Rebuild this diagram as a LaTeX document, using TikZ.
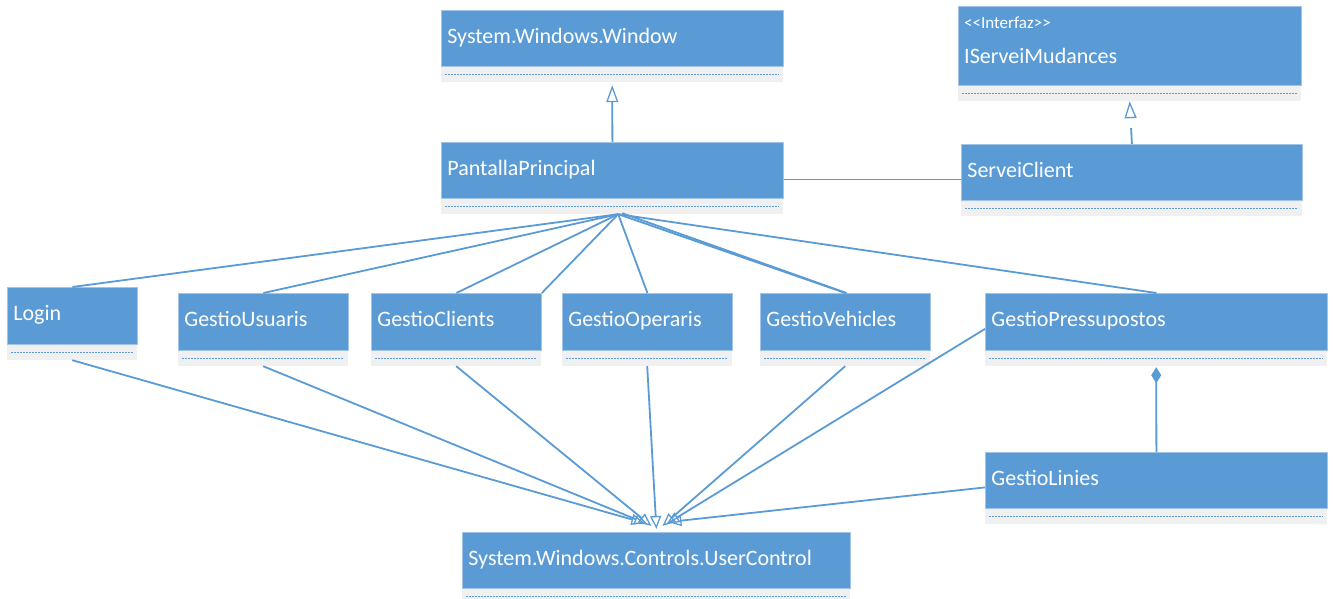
\documentclass[tikz,border=0pt]{standalone}
\usepackage{fontspec}
\newfontfamily\umlfont{Carlito}
\usetikzlibrary{arrows.meta,calc}
\definecolor{umlblue}{HTML}{5B9BD5}
\definecolor{umledge}{HTML}{A2C4E6}
\definecolor{umlband}{HTML}{F0F0F0}

\tikzset{
  cls/.style={rectangle, fill=umlblue, draw=umledge, line width=0.8pt,
    anchor=north west, inner xsep=6pt, inner ysep=0pt, text=white,
    text height=14pt, text depth=4pt,
    font=\umlfont\fontsize{22}{26}\selectfont, align=left},
  band/.style={rectangle, fill=umlband, anchor=north west, inner sep=0pt,
    minimum height=15pt,
    path picture={\draw[umlblue, line width=1.3pt, dash pattern=on 2pt off 1pt]
      ([xshift=4pt]path picture bounding box.west) --
      ([xshift=-4pt]path picture bounding box.east);}},
  stereo/.style={anchor=west, inner sep=0pt, text=white,
    font=\umlfont\fontsize{17}{20}\selectfont},
  link/.style={draw=umlblue, line width=1.8pt},
  inherit/.style={link, -{Triangle[open, length=13pt, width=11pt, line width=1.3pt]}},
}

% class box: name, x, y, width, height, title
\newcommand\umlclass[6]{%
  \pgfmathsetmacro\umltw{#4-12}%
  \node[cls, minimum width=#4pt, minimum height=#5pt, text width=\umltw pt] (#1) at (#2,#3) {#6};
  \node[band, minimum width=#4pt] (#1-ops) at (#1.south west) {};
}

\begin{document}
\begin{tikzpicture}[x=1pt, y=-1pt]
\useasboundingbox (0,0) rectangle (1333,599);

% classes
\umlclass{win}{441}{10}{342}{56}{System.Windows.Window}
\umlclass{pp}{441}{142}{342}{56}{PantallaPrincipal}
\umlclass{ism}{958}{6}{343}{79}{}
\node[stereo] (ism-st) at ($(ism.north west)+(6,17)$) {<<Interfaz>>};
\node[stereo, font=\umlfont\fontsize{22}{26}\selectfont] (ism-name) at ($(ism.north west)+(6,50)$) {IServeiMudances};
\umlclass{sc}{961}{144}{341}{56}{ServeiClient}
\umlclass{login}{7}{287}{130}{57}{Login}
\umlclass{gu}{178}{293}{170}{57}{GestioUsuaris}
\umlclass{gc}{371}{293}{170}{57}{GestioClients}
\umlclass{go}{562}{293}{170}{57}{GestioOperaris}
\umlclass{gv}{760}{293}{170}{57}{GestioVehicles}
\umlclass{gp}{985}{293}{342}{57}{GestioPressupostos}
\umlclass{gl}{985}{452}{342}{56}{GestioLinies}
\umlclass{uc}{462}{532}{388}{56}{System.Windows.Controls.UserControl}

% generalisation and realisation
\draw[link, -{Triangle[open, length=17pt, width=12pt, line width=1.3pt]}, shorten >=3pt]
  (pp.north) -- (win-ops.south);
\draw[link, dash pattern=on 16pt off 10pt,
  -{Triangle[open, length=17pt, width=12pt, line width=1.3pt]}]
  (sc.north) -- (ism-ops.south);

% association with the service
\draw[link] ([yshift=-9pt]pp.east) -- ([yshift=-7pt]sc.west);

% associations from the main window
\coordinate (hub) at ([xshift=6pt]pp-ops.south);
\draw[link] (hub) -- (login.north);
\draw[link] (hub) -- (gu.north);
\draw[link] (hub) -- (gc.north);
\draw[link] (hub) -- (gc.north east);
\draw[link] (hub) -- (go.north);
\draw[link] (hub) -- (gv.north);
\draw[link] ([xshift=4pt,yshift=1pt]hub) -- ([xshift=1pt]gv.north);
\draw[link] (hub) -- (gp.north);

% composition
\draw[link, -{Diamond[length=16pt, width=10pt, fill=umlblue, line width=1pt]}, shorten >=1pt]
  (gl.north) -- (gp-ops.south);

% generalisations to UserControl
\coordinate (t1) at ([xshift=-12pt,yshift=9pt]uc.north);
\coordinate (t2) at ([xshift=-9pt,yshift=8pt]uc.north);
\coordinate (t3) at ([xshift=-5pt,yshift=6pt]uc.north);
\coordinate (t4) at ([xshift=0pt,yshift=3pt]uc.north);
\coordinate (t5) at ([xshift=6pt,yshift=6pt]uc.north);
\coordinate (t6) at ([xshift=10pt,yshift=8pt]uc.north);
\coordinate (t7) at ([xshift=12pt,yshift=10pt]uc.north);
\draw[inherit] (login-ops.south) -- (t1);
\draw[inherit] (gu-ops.south) -- (t2);
\draw[inherit] (gc-ops.south) -- (t3);
\draw[inherit] (go-ops.south) -- (t4);
\draw[inherit] (gv-ops.south) -- (t5);
\draw[inherit] ([yshift=-7pt]gp.west) -- (t6);
\draw[inherit] ([yshift=-7pt]gl.west) -- (t7);
\end{tikzpicture}
\end{document}
